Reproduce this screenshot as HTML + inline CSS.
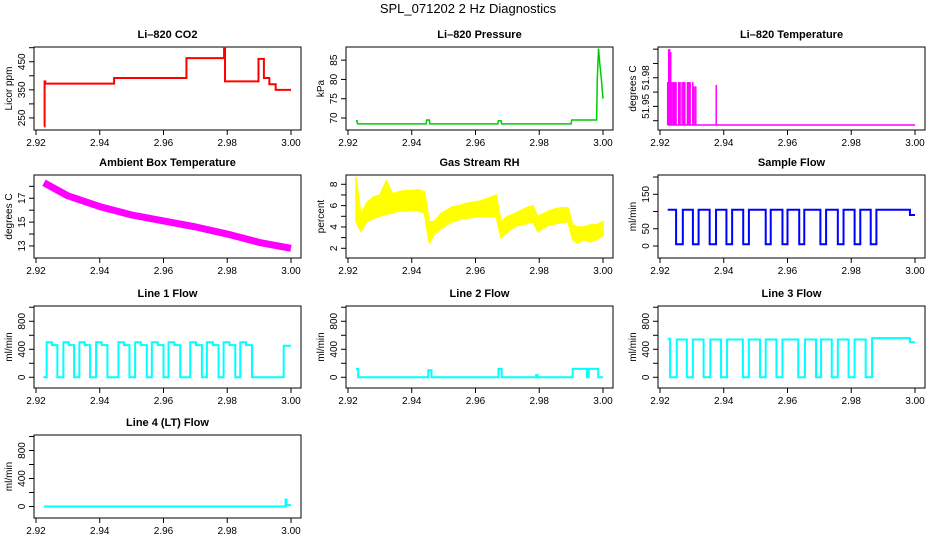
<!DOCTYPE html>
<html><head><meta charset="utf-8">
<style>
html,body{margin:0;padding:0;background:#fff;}
svg{display:block;font-family:"Liberation Sans",Arial,sans-serif;}
</style></head>
<body>
<svg id="chart" width="936" height="540" viewBox="0 0 936 540" xmlns="http://www.w3.org/2000/svg">
<rect width="936" height="540" fill="#fff"/>
<text x="468" y="13" text-anchor="middle" font-size="13">SPL_071202  2 Hz Diagnostics</text>
</svg>
<script>
// ---- data ----
const xTicks = [2.92, 2.94, 2.96, 2.98, 3.00];
const xTickLabels = ["2.92", "2.94", "2.96", "2.98", "3.00"];

const co2Times = [2.9225,2.9227,2.9229,2.9445,2.9672,2.9790,2.9793,2.9898,2.9915,2.9932,2.9952,3.0];
const co2Vals  = [220,380,372,392,463,500,380,460,392,370,350,350];

const presTimes = [2.9225,2.9228,2.9230,2.9445,2.9447,2.9455,2.9457,2.9670,2.9672,2.9680,2.9682,2.9900,2.9902,2.9980,2.9982,2.9986,2.9990,2.9995,3.0];
const presVals  = [69.3,69.3,68.5,68.5,69.5,69.5,68.5,68.5,69.3,69.3,68.5,68.5,69.5,69.5,80,88,84,80,75];

const tempSpikeTimes = [2.92241,2.92273,2.92304,2.92336,2.92378,2.9242,2.92462,2.92504,2.92588,2.9263,2.92693,2.92735,2.92777,2.92861,2.92903,2.92945,2.93029,2.93071,2.93123,2.93764];
const tempSpikeVals  = [51.967,51.99,51.99,51.988,51.967,51.967,51.967,51.967,51.967,51.967,51.967,51.967,51.967,51.967,51.967,51.967,51.967,51.964,51.964,51.965];
const tempBase = 51.937;

const ambTimes = [2.9225,2.93,2.94,2.95,2.96,2.97,2.98,2.99,3.0];
const ambVals  = [18.3,17.2,16.3,15.6,15.1,14.6,14.0,13.3,12.8];

const rhTimes = [2.9225,2.924,2.926,2.928,2.930,2.932,2.934,2.936,2.938,2.940,2.942,2.944,2.9455,2.947,2.949,2.951,2.953,2.955,2.957,2.959,2.961,2.963,2.965,2.9665,2.968,2.970,2.972,2.974,2.976,2.978,2.9795,2.981,2.983,2.985,2.987,2.989,2.9905,2.992,2.994,2.996,2.998,3.0];
const rhLow  = [4.5,3.6,4.5,4.8,5.0,5.2,5.3,5.5,5.5,5.6,5.5,5.3,2.5,3.3,3.8,4.2,4.5,4.7,4.8,4.9,5.0,5.0,5.0,5.0,3.0,3.5,4.0,4.2,4.3,4.5,3.6,3.8,4.2,4.3,4.4,4.5,2.8,2.5,2.8,2.6,2.8,3.2];
const rhHigh = [8.7,5.2,6.3,6.8,7.0,8.3,7.1,7.3,7.4,7.4,7.5,7.3,4.5,4.5,5.2,5.6,5.9,6.0,6.2,6.3,6.4,6.6,6.8,7.0,4.5,5.0,5.2,5.5,5.8,6.0,5.0,5.2,5.5,5.7,5.8,5.8,4.2,4.0,4.0,4.2,4.2,4.5];

const sfTimes = [2.92242,2.92505,2.92716,2.93032,2.93211,2.93558,2.93758,2.94084,2.94263,2.94611,2.94789,2.95316,2.95474,2.95842,2.96,2.96368,2.96526,2.97032,2.97211,2.97579,2.97758,2.98105,2.98284,2.98611,2.98789,2.99842,3.0];
const sfVals  = [105,5,105,5,105,5,105,5,105,5,105,5,105,5,105,5,105,5,105,5,105,5,105,5,105,90,90];

const l1Times = [2.9223,2.92335,2.9250,2.9267,2.92859,2.9303,2.93194,2.93361,2.9353,2.93696,2.93885,2.9406,2.94241,2.94586,2.9476,2.94932,2.9511,2.9529,2.95476,2.95634,2.9582,2.96,2.96157,2.9634,2.96524,2.96838,2.9702,2.97204,2.97361,2.9755,2.97728,2.97885,2.9807,2.98251,2.98408,2.9859,2.98775,2.9977,3.0];
const l1Vals  = [0,500,460,0,500,460,0,500,460,0,500,460,0,500,460,0,500,460,0,500,460,0,500,460,0,500,460,0,500,460,0,500,460,0,500,460,0,450,450];

const l2Times = [2.9225,2.9232,2.9452,2.9462,2.9672,2.9682,2.9790,2.9795,2.9905,2.9950,2.9955,2.9985,3.0];
const l2Vals  = [120,0,100,0,120,0,30,0,120,0,120,0,0];

const l3Times = [2.92242,2.92316,2.92526,2.92842,2.93032,2.93368,2.93579,2.93916,2.94105,2.946,2.94789,2.95137,2.95316,2.95653,2.95842,2.96337,2.96547,2.96895,2.97053,2.97389,2.97579,2.97916,2.98105,2.98453,2.98653,2.99842,3.0];
const l3Vals  = [550,0,540,0,540,0,540,0,540,0,540,0,540,0,540,0,540,0,540,0,540,0,540,0,560,500,500];

const l4Times = [2.9225,2.9983,2.9986,3.0];
const l4Vals  = [0,100,20,20];

// ---- layout ----
const NS = "http://www.w3.org/2000/svg";
const svg = document.getElementById('chart');
const rowBox = [[47,130],[175,258],[306,388],[435,518]];
function mk(tag, attrs, parent){
  const e = document.createElementNS(NS, tag);
  for (const k in attrs) e.setAttribute(k, attrs[k]);
  (parent||svg).appendChild(e);
  return e;
}
function panel(cfg){
  const c = cfg.col, r = cfg.row;
  const L = 34 + 312*c, R = 301 + 312*c;
  const T = rowBox[r][0], B = rowBox[r][1];
  const x0 = 36 + 312*c, x1 = 291 + 312*c;
  const xs = t => x0 + (t - 2.92) / 0.08 * (x1 - x0);
  const ys = v => T + (cfg.yTop - v) / (cfg.yTop - cfg.yBot) * (B - T);
  const g = mk('g', {});
  
  
  const title = mk('text', {x:(L+R)/2, y:T-9, 'text-anchor':'middle', 'font-size':'11', 'font-weight':'bold'}, g);
  title.textContent = cfg.title;
  
  
  const box = mk('rect', {x:L, y:T, width:R-L, height:B-T, fill:'none', stroke:'#000', 'stroke-width':1}, g);
  
  
  const xa = mk('g', {}, g);
  
  
  mk('line', {x1:xs(xTicks[0]), x2:xs(xTicks[xTicks.length-1]), y1:B, y2:B, stroke:'#000'}, xa);
  xTicks.forEach((t,i) => {
    mk('line', {x1:xs(t), x2:xs(t), y1:B, y2:B+5, stroke:'#000'}, xa);
    const tl = mk('text', {x:xs(t), y:B+16, 'text-anchor':'middle', 'font-size':'10'}, xa);
    tl.textContent = xTickLabels[i];
    
    
  });
  const ya = mk('g', {}, g);
  
  
  const yt = cfg.yTicks;
  mk('line', {x1:L, x2:L, y1:ys(yt[0]), y2:ys(yt[yt.length-1]), stroke:'#000'}, ya);
  yt.forEach((v,i) => {
    mk('line', {x1:L-5, x2:L, y1:ys(v), y2:ys(v), stroke:'#000'}, ya);
    if (cfg.yLabels[i]) {
      const yy = ys(v);
      const tl = mk('text', {x:L-9, y:yy, 'text-anchor':'middle', 'font-size':'10', transform:`rotate(-90 ${L-9} ${yy})`}, ya);
      tl.textContent = cfg.yLabels[i];
      
      
    }
  });
  const yl = mk('text', {x:L-22, y:(T+B)/2, 'text-anchor':'middle', 'font-size':'10', transform:`rotate(-90 ${L-22} ${(T+B)/2})`}, g);
  yl.textContent = cfg.yTitle;
  
  
  return {g, xs, ys};
}
function stepPath(times, vals, xs, ys){
  let d = `M${xs(times[0])},${ys(vals[0])}`;
  for (let i=1;i<times.length;i++){ d += ` H${xs(times[i])} V${ys(vals[i])}`; }
  return d;
}
function linePath(times, vals, xs, ys){
  return times.map((t,i)=>(i?'L':'M')+xs(t)+','+ys(vals[i])).join(' ');
}

let p = panel({name:'co2', col:0,row:0,title:'Li\u2013820 CO2',yTitle:'Licor ppm',yTop:502.5,yBot:207,yTicks:[250,300,350,400,450,500],yLabels:['250','','350','','450','']});
let s = mk('path',{d:stepPath(co2Times,co2Vals,p.xs,p.ys),fill:'none',stroke:'#ff0000','stroke-width':2}, p.g);



p = panel({name:'pressure', col:1,row:0,title:'Li\u2013820 Pressure',yTitle:'kPa',yTop:88.4,yBot:66.9,yTicks:[70,75,80,85],yLabels:['70','75','80','85']});
s = mk('path',{d:linePath(presTimes,presVals,p.xs,p.ys),fill:'none',stroke:'#00cc00','stroke-width':1.5}, p.g);



p = panel({name:'licor-temp', col:2,row:0,title:'Li\u2013820 Temperature',yTitle:'degrees C',yTop:51.9915,yBot:51.9335,yTicks:[51.94,51.95,51.96,51.97,51.98,51.99],yLabels:['','51.95','','51.98','','']});
s = mk('path',{d:`M${p.xs(tempSpikeTimes[0])},${p.ys(tempBase)} H${p.xs(3.0)}`,fill:'none',stroke:'#ff00ff','stroke-width':1.5}, p.g);


tempSpikeTimes.forEach((t,i)=>{
  const ln = mk('line',{x1:p.xs(t),x2:p.xs(t),y1:p.ys(tempBase),y2:p.ys(tempSpikeVals[i]),stroke:'#ff00ff','stroke-width':1.5}, p.g);
  
  
});

p = panel({name:'ambient-temp', col:0,row:1,title:'Ambient Box Temperature',yTitle:'degrees C',yTop:18.95,yBot:11.99,yTicks:[13,14,15,16,17,18],yLabels:['13','','15','','17','']});
s = mk('path',{d:linePath(ambTimes,ambVals,p.xs,p.ys),fill:'none',stroke:'#ff00ff','stroke-width':7,'stroke-linejoin':'round'}, p.g);



p = panel({name:'gas-rh', col:1,row:1,title:'Gas Stream RH',yTitle:'percent',yTop:8.87,yBot:1.09,yTicks:[2,3,4,5,6,7,8],yLabels:['2','','4','','6','','8']});
{
  let d = rhTimes.map((t,i)=>(i?'L':'M')+p.xs(t)+','+p.ys(rhHigh[i])).join(' ');
  for (let i=rhTimes.length-1;i>=0;i--) d += ` L${p.xs(rhTimes[i])},${p.ys(rhLow[i])}`;
  s = mk('path',{d:d+' Z',fill:'#ffff00',stroke:'#ffff00','stroke-width':1.5}, p.g);
  
  
}

p = panel({name:'sample-flow', col:2,row:1,title:'Sample Flow',yTitle:'ml/min',yTop:205.9,yBot:-34.8,yTicks:[0,50,100,150,200],yLabels:['0','50','','150','']});
s = mk('path',{d:stepPath(sfTimes,sfVals,p.xs,p.ys),fill:'none',stroke:'#0000ff','stroke-width':2}, p.g);



const flowTicks = [0,200,400,600,800,1000];
const flowLabels = ['0','','400','','800',''];
p = panel({name:'line1-flow', col:0,row:2,title:'Line 1 Flow',yTitle:'ml/min',yTop:1018,yBot:-153,yTicks:flowTicks,yLabels:flowLabels});
s = mk('path',{d:stepPath(l1Times,l1Vals,p.xs,p.ys),fill:'none',stroke:'#00ffff','stroke-width':2}, p.g);



p = panel({name:'line2-flow', col:1,row:2,title:'Line 2 Flow',yTitle:'ml/min',yTop:1018,yBot:-153,yTicks:flowTicks,yLabels:flowLabels});
s = mk('path',{d:stepPath(l2Times,l2Vals,p.xs,p.ys),fill:'none',stroke:'#00ffff','stroke-width':2}, p.g);



p = panel({name:'line3-flow', col:2,row:2,title:'Line 3 Flow',yTitle:'ml/min',yTop:1018,yBot:-153,yTicks:flowTicks,yLabels:flowLabels});
s = mk('path',{d:stepPath(l3Times,l3Vals,p.xs,p.ys),fill:'none',stroke:'#00ffff','stroke-width':2}, p.g);



p = panel({name:'line4-flow', col:0,row:3,title:'Line 4 (LT) Flow',yTitle:'ml/min',yTop:1021,yBot:-164,yTicks:flowTicks,yLabels:flowLabels});
s = mk('path',{d:stepPath(l4Times,l4Vals,p.xs,p.ys),fill:'none',stroke:'#00ffff','stroke-width':2}, p.g);


</script>
</body></html>
